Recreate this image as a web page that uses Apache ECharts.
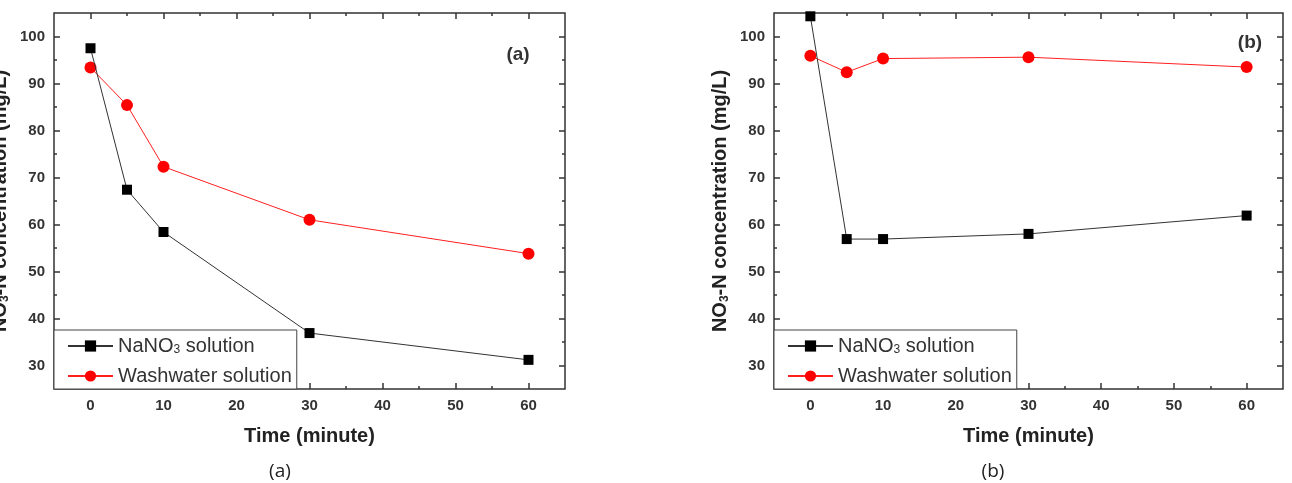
<!DOCTYPE html>
<html>
<head>
<meta charset="utf-8">
<script src="https://cdn.jsdelivr.net/npm/echarts@6/dist/echarts.min.js"></script>
<style>
html,body{margin:0;padding:0;background:#fff;}
#chart{width:1292px;height:483px;}
</style>
</head>
<body>
<div id="chart"></div>
<script>
// ---- data ----
const timeMin = [0, 5, 10, 30, 60];
const nano3A = [97.5, 67.4, 58.4, 36.9, 31.2];
const washA  = [93.4, 85.4, 72.3, 61.0, 53.8];
const nano3B = [104.3, 56.9, 56.9, 58.0, 61.9];
const washB  = [95.9, 92.4, 95.3, 95.6, 93.5];
const seriesNames = ['NaNO3 solution', 'Washwater solution'];
const xMajorTicks = [0, 10, 20, 30, 40, 50, 60];
const xMinorTicks = [5, 15, 25, 35, 45, 55];
const yMajorTicks = [30, 40, 50, 60, 70, 80, 90, 100];
const yMinorTicks = [35, 45, 55, 65, 75, 85, 95];
const xRange = [-5, 65];
const yRange = [25, 105];
const panelLabels = ['(a)', '(b)'];
const xTitle = 'Time (minute)';

const FONT = '"Liberation Sans", Arial, sans-serif';
const FRAME = '#333';

const grids = [
  {left: 54, top: 13, width: 511, height: 376},
  {left: 774, top: 13, width: 509, height: 376}
];

function pair(xs, ys) { return xs.map((x, i) => [x, ys[i]]); }

const NOLINE = {show: false, onZero: false};
const xAxes = [], yAxes = [];
grids.forEach((g, gi) => {
  // bottom major (labels + name)
  xAxes.push({
    type: 'value', gridIndex: gi, position: 'bottom', min: xRange[0], max: xRange[1],
    axisLine: NOLINE, splitLine: {show: false},
    axisTick: {show: true, inside: true, length: 6, customValues: xMajorTicks, lineStyle: {color: FRAME, width: 1.5}},
    axisLabel: {show: true, customValues: xMajorTicks, margin: 9, color: '#333', fontWeight: 'bold', fontSize: 15, fontFamily: FONT},
    name: xTitle, nameLocation: 'middle', nameGap: 37,
    nameTextStyle: {fontSize: 20, fontWeight: 'bold', color: '#222', fontFamily: FONT}
  });
  // bottom minor
  xAxes.push({
    type: 'value', gridIndex: gi, position: 'bottom', min: xRange[0], max: xRange[1],
    axisLine: NOLINE, splitLine: {show: false}, axisLabel: {show: false},
    axisTick: {show: true, inside: true, length: 3, customValues: xMinorTicks, lineStyle: {color: FRAME, width: 1.5}}
  });
  // top major
  xAxes.push({
    type: 'value', gridIndex: gi, position: 'top', min: xRange[0], max: xRange[1],
    axisLine: NOLINE, splitLine: {show: false}, axisLabel: {show: false},
    axisTick: {show: true, inside: true, length: 6, customValues: xMajorTicks, lineStyle: {color: FRAME, width: 1.5}}
  });
  // top minor
  xAxes.push({
    type: 'value', gridIndex: gi, position: 'top', min: xRange[0], max: xRange[1],
    axisLine: NOLINE, splitLine: {show: false}, axisLabel: {show: false},
    axisTick: {show: true, inside: true, length: 3, customValues: xMinorTicks, lineStyle: {color: FRAME, width: 1.5}}
  });
  // left major
  yAxes.push({
    type: 'value', gridIndex: gi, position: 'left', min: yRange[0], max: yRange[1],
    axisLine: NOLINE, splitLine: {show: false},
    axisTick: {show: true, inside: true, length: 6, customValues: yMajorTicks, lineStyle: {color: FRAME, width: 1.5}},
    axisLabel: {show: true, customValues: yMajorTicks, margin: 9, color: '#333', fontWeight: 'bold', fontSize: 15, fontFamily: FONT},
    name: '{t|NO}{s|3}{t|-N concentration (mg/L)}', nameLocation: 'middle', nameGap: 43, nameRotate: 90,
    nameTextStyle: {
      fontSize: 20, fontWeight: 'bold', color: '#222', fontFamily: FONT,
      rich: {
        t: {fontSize: 20, fontWeight: 'bold', color: '#222', fontFamily: FONT, lineHeight: 22},
        s: {fontSize: 12, fontWeight: 'bold', color: '#222', fontFamily: FONT, lineHeight: 8, verticalAlign: 'bottom'}
      }
    }
  });
  // left minor
  yAxes.push({
    type: 'value', gridIndex: gi, position: 'left', min: yRange[0], max: yRange[1],
    axisLine: NOLINE, splitLine: {show: false}, axisLabel: {show: false},
    axisTick: {show: true, inside: true, length: 3, customValues: yMinorTicks, lineStyle: {color: FRAME, width: 1.5}}
  });
  // right major
  yAxes.push({
    type: 'value', gridIndex: gi, position: 'right', min: yRange[0], max: yRange[1],
    axisLine: NOLINE, splitLine: {show: false}, axisLabel: {show: false},
    axisTick: {show: true, inside: true, length: 6, customValues: yMajorTicks, lineStyle: {color: FRAME, width: 1.5}}
  });
  // right minor
  yAxes.push({
    type: 'value', gridIndex: gi, position: 'right', min: yRange[0], max: yRange[1],
    axisLine: NOLINE, splitLine: {show: false}, axisLabel: {show: false},
    axisTick: {show: true, inside: true, length: 3, customValues: yMinorTicks, lineStyle: {color: FRAME, width: 1.5}}
  });
});

function mkSeries(name, gi, data, isNano) {
  return {
    type: 'line', name: name, xAxisIndex: gi * 4, yAxisIndex: gi * 4,
    data: pair(timeMin, data),
    symbol: isNano ? 'rect' : 'circle',
    symbolSize: isNano ? 10 : 12,
    itemStyle: {color: isNano ? '#000' : '#ff0000'},
    lineStyle: {color: isNano ? '#333' : '#ff2020', width: 1},
    z: isNano ? 3 : 2,
    animation: false
  };
}

const series = [
  mkSeries(seriesNames[0], 0, nano3A, true),
  mkSeries(seriesNames[1], 0, washA, false),
  mkSeries(seriesNames[0], 1, nano3B, true),
  mkSeries(seriesNames[1], 1, washB, false)
];

function legendFor(gi) {
  return {
    show: true, orient: 'vertical', left: grids[gi].left, top: 330,
    data: seriesNames, selectedMode: false,
    backgroundColor: '#fff', borderColor: '#444', borderWidth: 1, borderRadius: 0,
    padding: [6, 5, 3, 13], itemGap: 10, itemWidth: 45, itemHeight: 14,
    z: 10,
    formatter: function (n) {
      return n === seriesNames[0] ? '{t|NaNO}{s|3}{t| solution}' : '{t|' + n + '}';
    },
    textStyle: {
      fontSize: 20, color: '#333', fontFamily: FONT,
      rich: {
        t: {fontSize: 20, color: '#333', fontFamily: FONT, lineHeight: 20},
        s: {fontSize: 12, color: '#333', fontFamily: FONT, lineHeight: 8, verticalAlign: 'bottom'}
      }
    }
  };
}

const chart = echarts.init(document.getElementById('chart'), null, {renderer: 'canvas'});
chart.setOption({
  backgroundColor: '#fff',
  animation: false,
  grid: grids.map(g => Object.assign({show: true, borderColor: FRAME, borderWidth: 1.5, backgroundColor: 'transparent', containLabel: false, outerBoundsMode: 'none'}, g)),
  xAxis: xAxes,
  yAxis: yAxes,
  legend: [legendFor(0), legendFor(1)],
  series: series,
  graphic: [
    {type: 'text', x: 518, y: 55, style: {text: panelLabels[0], font: 'bold 19px ' + FONT, fill: '#333', textAlign: 'center', textVerticalAlign: 'middle'}},
    {type: 'text', x: 1250, y: 43, style: {text: panelLabels[1], font: 'bold 19px ' + FONT, fill: '#333', textAlign: 'center', textVerticalAlign: 'middle'}},
    {type: 'text', x: 280, y: 472, style: {text: panelLabels[0], font: '19px "Open Sans", sans-serif', fill: '#222', textAlign: 'center', textVerticalAlign: 'middle'}},
    {type: 'text', x: 993, y: 472, style: {text: panelLabels[1], font: '19px "Open Sans", sans-serif', fill: '#222', textAlign: 'center', textVerticalAlign: 'middle'}}
  ]
});
</script>
</body>
</html>
